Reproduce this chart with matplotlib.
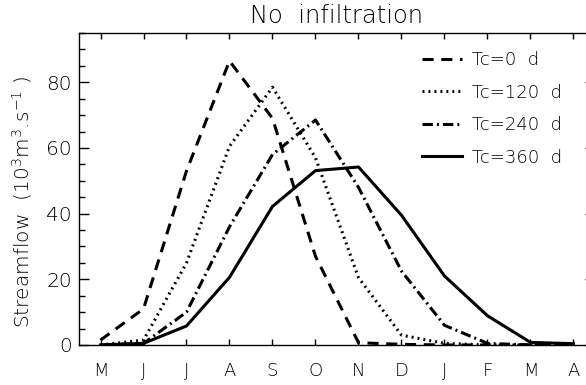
import matplotlib
matplotlib.use("Agg")
import matplotlib.pyplot as plt
from matplotlib.ticker import MultipleLocator

months = ['M', 'J', 'J', 'A', 'S', 'O', 'N', 'D', 'J', 'F', 'M', 'A']
tc0 = [1.5, 11, 53, 86.5, 69, 27, 0.7, 0.2, 0, 0, 0, 0]
tc120 = [0, 1.5, 25, 60.5, 78.5, 57, 20.5, 3, 0.5, 0, 0, 0]
tc240 = [0, 0.5, 10, 36, 58, 68.5, 48, 22.5, 6, 0.5, 0, 0]
tc360 = [0, 0.5, 5.8, 20.6, 42.2, 53.1, 54.2, 39.5, 21, 8.9, 0.8, 0.4]
labels = ['Tc=0  d', 'Tc=120  d', 'Tc=240  d', 'Tc=360  d']
title = 'No  infiltration'
ylabel = r'Streamflow  (10$^3$m$^3$.s$^{-1}$ )'

plt.rcParams['font.family'] = ['DejaVu Sans']
plt.rcParams['font.weight'] = 'light'
plt.rcParams['axes.titleweight'] = 'light'
plt.rcParams['axes.labelweight'] = 'light'
plt.rcParams['mathtext.default'] = 'regular'
plt.rcParams['lines.scale_dashes'] = False

fig = plt.figure(figsize=(5.86, 3.85), dpi=100)
ax = fig.add_axes([79/586, 1-345/385, (595-79)/586, (345-33)/385])

x = list(range(len(months)))
lw = 2.2
ax.plot(x, tc0, color='black', lw=lw, linestyle=(0, (8, 5.5)), label=labels[0])
ax.plot(x, tc120, color='black', lw=lw, linestyle=(0, (1.4, 2.9)), label=labels[1])
ax.plot(x, tc240, color='black', lw=lw, linestyle=(0, (7.5, 2.9, 1.4, 2.9)), label=labels[2])
ax.plot(x, tc360, color='black', lw=lw, linestyle='-', label=labels[3])

ax.set_xlim(-0.5, 11.5)
ax.set_ylim(0, 95)
ax.set_xticks(x)
ax.set_xticklabels(months, fontsize=13)
ax.yaxis.set_minor_locator(MultipleLocator(5))
ax.set_yticks([0, 20, 40, 60, 80])
ax.tick_params(axis='y', which='major', direction='in', length=7.5, width=1,
               right=True, labelsize=14.5, pad=5)
ax.tick_params(axis='y', which='minor', direction='in', length=4, width=1, right=True)
ax.tick_params(axis='x', which='major', direction='in', length=4.5, width=1,
               top=True, labelsize=13, pad=12.5)
for s in ax.spines.values():
    s.set_linewidth(1)

ax.set_title(title, fontsize=17.5, pad=7)
ax.set_ylabel(ylabel, fontsize=14.5)
ax.yaxis.set_label_coords(-0.087, 0.46)

leg = ax.legend(loc='upper left', bbox_to_anchor=((415-79)/516, 1-(44-33)/312),
                frameon=False, fontsize=13, handlelength=2.2, handletextpad=0.55,
                labelspacing=0.8, borderaxespad=0)

fig.savefig('out.png', dpi=100)
